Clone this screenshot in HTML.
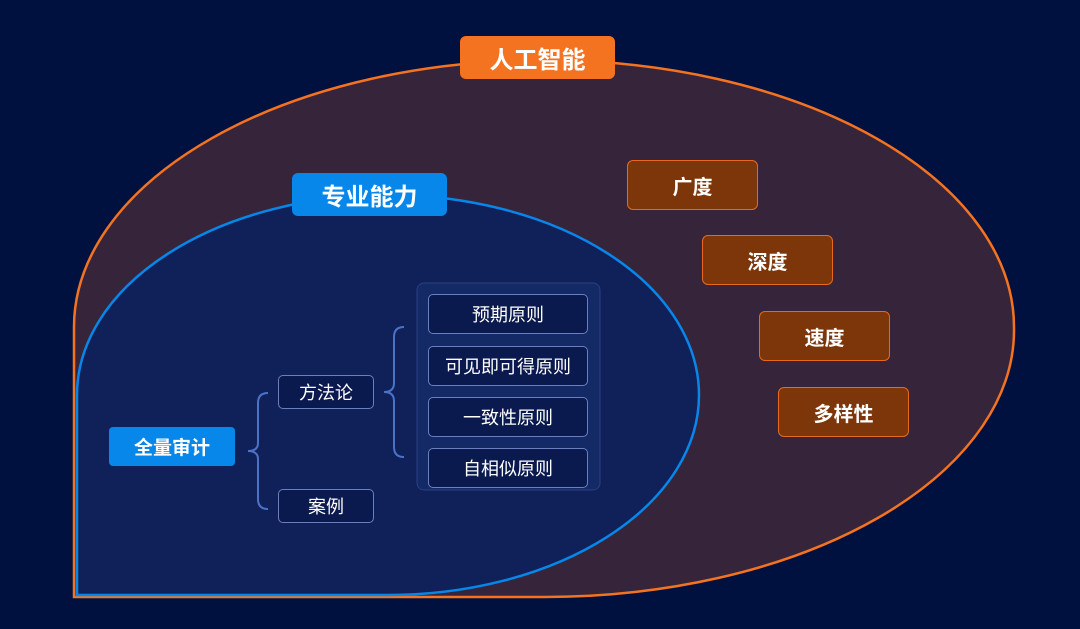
<!DOCTYPE html>
<html><head><meta charset="utf-8"><style>
body{margin:0;width:1080px;height:629px;background:#01113f;overflow:hidden;position:relative;font-family:"Liberation Sans","Noto Sans CJK SC",sans-serif}
.b{position:absolute;display:flex;align-items:center;justify-content:center;color:#fff;box-sizing:border-box}
.o{background:#7d3609;border:1.5px solid #e8691c;border-radius:6px;font-size:20px;font-weight:bold;width:131px;height:50px}
.n{background:#0a1a4e;border:1.5px solid #6a7fbf;border-radius:5px;font-size:18px}
</style></head><body>
<svg width="1080" height="629" style="position:absolute;left:0;top:0">
<path d="M74,327 A470,267 0 0 1 1014,327 A470,267 0 0 1 544,597 L74,597 Z" fill="#36243a" stroke="#f37321" stroke-width="2.5"/>
<path d="M77,395 A311,200 0 0 1 699,395 A311,200 0 0 1 388,595 L77,595 Z" fill="#10215a" stroke="#0787ea" stroke-width="2.5"/>
<rect x="417" y="283" width="183" height="207" rx="7" fill="#142a66" stroke="#2b4080" stroke-width="1"/>
<path d="M268,393 Q258,393 258,403 L258,443 Q258,451 248,451 Q258,451 258,459 L258,499 Q258,509 268,509" fill="none" stroke="#4a73c8" stroke-width="2"/>
<path d="M404,327 Q394,327 394,337 L394,383 Q394,392 384,392 Q394,392 394,401 L394,447 Q394,457 404,457" fill="none" stroke="#4a73c8" stroke-width="2"/>
</svg>
<div class="b" style="left:460px;top:36px;width:155px;height:43px;background:#f37321;border-radius:6px;font-size:24px;font-weight:bold">人工智能</div>
<div class="b" style="left:292px;top:173px;width:155px;height:43px;background:#0787ea;border-radius:6px;font-size:24px;font-weight:bold">专业能力</div>
<div class="b o" style="left:627px;top:160px">广度</div>
<div class="b o" style="left:702px;top:235px">深度</div>
<div class="b o" style="left:759px;top:311px">速度</div>
<div class="b o" style="left:778px;top:387px">多样性</div>
<div class="b" style="left:109px;top:427px;width:126px;height:39px;background:#0787ea;border-radius:4px;font-size:19px;font-weight:bold">全量审计</div>
<div class="b n" style="left:278px;top:375px;width:96px;height:34px">方法论</div>
<div class="b n" style="left:278px;top:489px;width:96px;height:34px">案例</div>
<div class="b n" style="left:428px;top:294px;width:160px;height:40px">预期原则</div>
<div class="b n" style="left:428px;top:346px;width:160px;height:40px">可见即可得原则</div>
<div class="b n" style="left:428px;top:397px;width:160px;height:40px">一致性原则</div>
<div class="b n" style="left:428px;top:448px;width:160px;height:40px">自相似原则</div>
</body></html>
